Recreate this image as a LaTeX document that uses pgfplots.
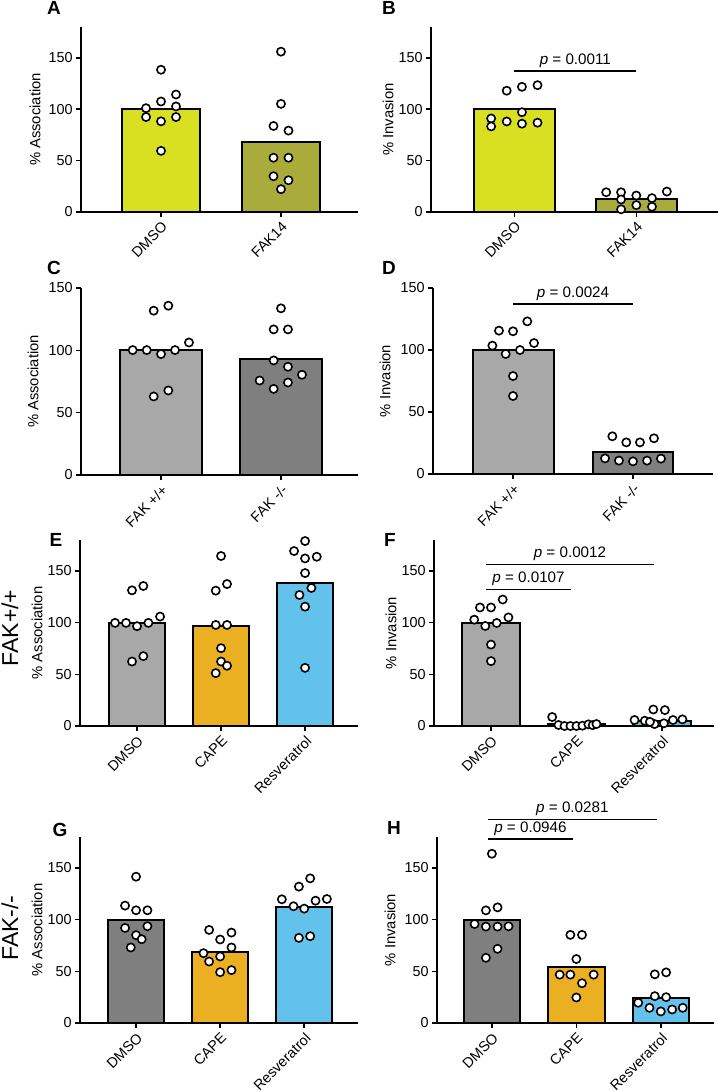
\documentclass[border=0pt]{standalone}
\usepackage{fontspec}
\setmainfont{Liberation Sans}
\usepackage{pgfplots}
\pgfplotsset{compat=1.18}

\definecolor{lime}{HTML}{D9E021}
\definecolor{olive}{HTML}{A9AB3B}
\definecolor{ltgray}{HTML}{A8A8A8}
\definecolor{dkgray}{HTML}{7F7F7F}
\definecolor{capeor}{HTML}{EBAF22}
\definecolor{resvbl}{HTML}{62C2EC}

\pgfplotsset{
  panel/.style={
    scale only axis, anchor=south west,
    axis x line=bottom, axis y line=left,
    axis line style={-, line width=0.75pt},
    ymin=0, ytick={0,50,100,150}, clip=false,
    tick align=outside, major tick length=2.5pt,
    tick style={black, line width=0.75pt},
    /pgf/number format/assume math mode=true,
    yticklabel style={font=\fontsize{7.2}{8}\selectfont, inner sep=1.5pt},
    xticklabel style={font=\fontsize{7.2}{8}\selectfont, rotate=45, anchor=north east, inner sep=1.2pt},
    bar width=0.67,
  },
  ylab/.style 2 args={ylabel={#2},
    ylabel style={at={([xshift=-#1]axis description cs:0,0.5)}, anchor=center, font=\fontsize{7.4}{8}\selectfont}},
  bar/.style={ybar, bar shift=0pt, draw=black, line width=1pt, fill=#1},
  dots/.style={only marks, mark=*, mark size=2.05pt,
    mark options={fill=white, draw=black, line width=0.8pt}},
}
\tikzset{pline/.style={line width=0.75pt}}
\newcommand{\pval}[1]{\fontsize{7.6}{8}\selectfont\textit{p} = #1}

\begin{document}
\begin{tikzpicture}
\useasboundingbox (0,0) rectangle (358.5pt,-545.5pt);

% panel letters
\begin{scope}[font=\bfseries\fontsize{9.5}{10}\selectfont]
\node at (27pt,-4pt) {A};
\node at (194.5pt,-4pt) {B};
\node at (27pt,-134pt) {C};
\node at (194.5pt,-134pt) {D};
\node at (28pt,-270pt) {E};
\node at (195pt,-270pt) {F};
\node at (30pt,-415pt) {G};
\node at (197pt,-414pt) {H};
\end{scope}
\node[rotate=90, font=\fontsize{11.5}{12}\selectfont] at (5pt,-314pt) {FAK+/+};
\node[rotate=90, font=\fontsize{11.5}{12}\selectfont] at (5pt,-464pt) {FAK-/-};

% A
\begin{axis}[panel, at={(40.5pt,-106pt)}, width=138.5pt, height=92.5pt,
  xmin=-0.667, xmax=1.642, ymax=180, xtick={0,1}, xticklabels={DMSO,FAK14},
  bar width=0.65, ylab={23pt}{\% Association}]
\addplot[bar=lime] coordinates {(0,100)};
\addplot[bar=olive] coordinates {(1,68)};
\addplot[dots] coordinates {(0,138.4) (0.125,114.3) (0,107.5) (-0.125,101) (0.125,102.7)
  (-0.125,92.4) (0.125,92.4) (0,88.2) (0,59.5)};
\addplot[dots] coordinates {(1,156) (1,105.2) (0.9375,83.7) (1.0625,79.2) (0.9375,52.8)
  (1.0625,52.8) (0.9375,34.8) (1.0625,30.9) (1,22.2)};
\end{axis}

% B
\begin{axis}[panel, at={(215.5pt,-106pt)}, width=141pt, height=92.5pt,
  xmin=-0.683, xmax=1.667, ymax=180, xtick={0,1}, xticklabels={DMSO,FAK14},
  bar width=0.66, ylab={21.5pt}{\% Invasion}]
\addplot[bar=lime] coordinates {(0,100)};
\addplot[bar=olive] coordinates {(1,12.2)};
\addplot[dots] coordinates {(-0.0625,118) (0.0625,121.8) (0.19,123.4) (0.0625,97.1) (-0.19,91)
  (-0.19,83.3) (-0.0625,88.1) (0.0625,85.9) (0.19,86.9)};
\addplot[dots] coordinates {(0.753,19.2) (0.875,19.2) (0.875,12.2) (0.875,2.6) (1,16)
  (1,6.7) (1.128,13.5) (1.128,5.1) (1.25,19.9)};
\draw[pline] (axis cs:0,137) -- (axis cs:1,137) node[midway, above, inner sep=1.5pt] {\pval{0.0011}};
\end{axis}

% C
\begin{axis}[panel, at={(40.5pt,-237.5pt)}, width=138.5pt, height=93.5pt,
  xmin=-0.667, xmax=1.642, ymax=150, xtick={0,1}, xticklabels={FAK +/+,FAK -/-},
  bar width=0.68, ylab={24pt}{\% Association}]
\addplot[bar=ltgray] coordinates {(0,100)};
\addplot[bar=dkgray] coordinates {(1,93)};
\addplot[dots] coordinates {(-0.061,131.8) (0.061,135.8) (-0.236,100.2) (-0.119,100.2) (0,97)
  (0.117,100.2) (0.233,106.3) (-0.061,63) (0.061,67.8)};
\addplot[dots] coordinates {(1,133.7) (0.939,116.8) (1.058,116.8) (0.939,91.9) (1.058,86.8)
  (0.822,75.8) (0.939,69.1) (1.058,74.2) (1.175,80.4)};
\end{axis}

% D
\begin{axis}[panel, at={(216.5pt,-237pt)}, width=140pt, height=93pt,
  xmin=-0.667, xmax=1.667, ymax=150, xtick={0,1}, xticklabels={FAK +/+,FAK -/-},
  bar width=0.675, ylab={24pt}{\% Invasion}]
\addplot[bar=ltgray] coordinates {(0,100)};
\addplot[bar=dkgray] coordinates {(1,17.5)};
\addplot[dots] coordinates {(0.119,123.1) (-0.117,115.6) (0,115.1) (-0.172,103.5) (-0.061,96.8)
  (0.058,100) (0.175,105.6) (0,79) (0,62.9)};
\addplot[dots] coordinates {(0.828,30.4) (0.944,25.5) (1.058,25.5) (1.175,28.8) (0.767,12.6)
  (0.883,10.8) (1,10.2) (1.117,10.8) (1.233,12.4)};
\draw[pline] (axis cs:0,137) -- (axis cs:1,137) node[midway, above, inner sep=1.5pt] {\pval{0.0024}};
\end{axis}

% E
\begin{axis}[panel, at={(40pt,-363pt)}, width=139pt, height=93pt,
  xmin=-0.679, xmax=2.63, ymax=180, xtick={0,1,2}, xticklabels={DMSO,CAPE,Resveratrol},
  ylab={21.5pt}{\% Association}]
\addplot[bar=ltgray] coordinates {(0,99.5)};
\addplot[bar=capeor] coordinates {(1,96.6)};
\addplot[bar=resvbl] coordinates {(2,138.7)};
\addplot[dots] coordinates {(-0.06,131.3) (0.075,135.5) (-0.262,99.8) (-0.131,99.8) (0,96.6)
  (0.135,99.8) (0.274,105.9) (-0.06,62.4) (0.075,67.6)};
\addplot[dots] coordinates {(1,164.5) (0.937,131) (1.071,137.4) (0.937,97.8) (1.071,97.8)
  (1,75.3) (1,62.4) (1.071,58.3) (0.937,51.2)};
\addplot[dots] coordinates {(2,179) (1.869,169.3) (2,162.2) (2.139,163.8) (2,148)
  (2.075,133.6) (1.933,126.8) (2,115.5) (2,56.3)};
\end{axis}

% F
\begin{axis}[panel, at={(217pt,-363pt)}, width=140pt, height=93pt,
  xmin=-0.667, xmax=2.61, ymax=180, xtick={0,1,2}, xticklabels={DMSO,CAPE,Resveratrol},
  ylab={21.5pt}{\% Invasion}]
\addplot[bar=ltgray] coordinates {(0,99.5)};
\addplot[bar=capeor] coordinates {(1,1.5)};
\addplot[bar=resvbl] coordinates {(2,5)};
\addplot[dots] coordinates {(0.137,122.4) (-0.129,114.7) (0,114.7) (-0.196,102.9) (-0.067,96.8)
  (0.067,99.7) (0.204,105.1) (0,78.8) (0,62.8)};
\addplot[dots] coordinates {(0.716,8.7) (0.79,1) (0.86,0) (0.93,0) (1,0)
  (1.07,0.3) (1.14,1.6) (1.19,0.8) (1.234,1.9)};
\addplot[dots] coordinates {(1.68,5.8) (1.8,5.1) (1.914,1.9) (2.024,2.6) (2.13,5.8)
  (2.24,6.4) (1.9,16) (2.035,15.4) (1.86,4)};
\draw[pline] (axis cs:-0.058,156.5) -- (axis cs:1.906,156.5) node[midway, above, inner sep=1.5pt] {\pval{0.0012}};
\draw[pline] (axis cs:-0.058,132) -- (axis cs:0.936,132) node[midway, above, inner sep=1.5pt] {\pval{0.0107}};
\end{axis}

% G
\begin{axis}[panel, at={(40pt,-511.5pt)}, width=139pt, height=93pt,
  xmin=-0.667, xmax=2.64, ymax=180, xtick={0,1,2}, xticklabels={DMSO,CAPE,Resveratrol},
  ylab={21.5pt}{\% Association}]
\addplot[bar=dkgray] coordinates {(0,99.5)};
\addplot[bar=capeor] coordinates {(1,68.5)};
\addplot[bar=resvbl] coordinates {(2,112.6)};
\addplot[dots] coordinates {(0,141.6) (-0.131,113.6) (0,109.1) (0.135,109.1) (-0.131,92)
  (0.135,93.7) (0,85) (0.067,81.1) (-0.063,73.1)};
\addplot[dots] coordinates {(0.869,90.1) (1.135,87.5) (1,80.8) (1.135,73.1) (0.802,67.6)
  (1,64.4) (0.869,59.5) (1,49.2) (1.135,51.2)};
\addplot[dots] coordinates {(2.071,140) (1.937,132) (1.734,119.7) (1.873,113) (2,110.7)
  (2.135,118.4) (2.27,120) (1.937,82.4) (2.071,84)};
\end{axis}

% H
\begin{axis}[panel, at={(218.5pt,-511.5pt)}, width=138.5pt, height=93pt,
  xmin=-0.65, xmax=2.63, ymax=180, xtick={0,1,2}, xticklabels={DMSO,CAPE,Resveratrol},
  ylab={23.5pt}{\% Invasion}]
\addplot[bar=dkgray] coordinates {(0,99.4)};
\addplot[bar=capeor] coordinates {(1,54.2)};
\addplot[bar=resvbl] coordinates {(2,24)};
\addplot[dots] coordinates {(0,163.8) (-0.071,109) (0.067,111.9) (-0.205,95.8) (-0.071,93.3)
  (0.067,93.3) (0.197,93.6) (0.067,71.8) (-0.071,63.1)};
\addplot[dots] coordinates {(0.929,85.3) (1.067,85.3) (1,61.9) (0.803,46.8) (0.929,46.8)
  (1.067,38.5) (1.205,46.8) (1,24.7)};
\addplot[dots] coordinates {(1.929,47.1) (2.063,49) (1.929,26) (2.063,25) (1.732,19.6)
  (1.866,14.7) (2,11.2) (2.134,13.1) (2.26,14.7)};
\draw[pline] (axis cs:-0.047,197) -- (axis cs:1.953,197) node[midway, above, inner sep=1.5pt] {\pval{0.0281}};
\draw[pline] (axis cs:-0.047,178) -- (axis cs:0.96,178) node[midway, above, inner sep=1.5pt] {\pval{0.0946}};
\end{axis}
\end{tikzpicture}
\end{document}
